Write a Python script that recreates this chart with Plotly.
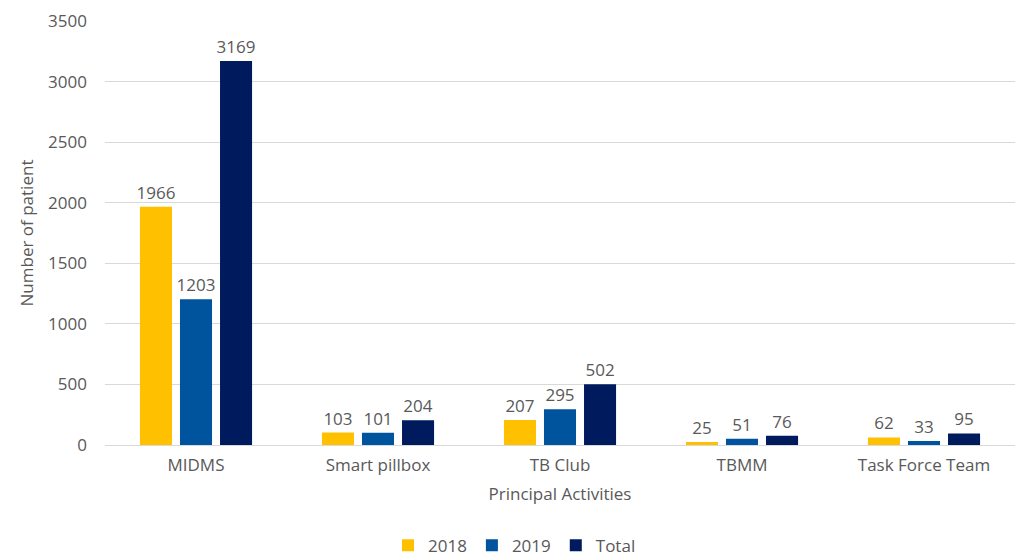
import plotly.graph_objects as go

categories = ["MIDMS", "Smart pillbox", "TB Club", "TBMM", "Task Force Team"]
series_names = ["2018", "2019", "Total"]
values_2018 = [1966, 103, 207, 25, 62]
values_2019 = [1203, 101, 295, 51, 33]
values_total = [3169, 204, 502, 76, 95]
colors = ["#FFC000", "#00549E", "#001A5E"]
y_ticks = [0, 500, 1000, 1500, 2000, 2500, 3000, 3500]

FONT = "Open Sans, Noto Sans, sans-serif"
GRAY = "#595959"

fig = go.Figure()
for name, vals, col in zip(series_names, [values_2018, values_2019, values_total], colors):
    fig.add_trace(go.Bar(
        name=name, x=categories, y=vals, marker_color=col, marker_line_width=0,
        text=[str(v) for v in vals], textposition="outside", cliponaxis=False,
        constraintext="none",
        textfont=dict(family=FONT, size=17, color=GRAY),
    ))

fig.update_layout(
    width=1019, height=556,
    margin=dict(l=105, r=4, t=21, b=111, autoexpand=False),
    paper_bgcolor="white", plot_bgcolor="white",
    barmode="group", bargap=0.34, bargroupgap=0.2,
    font=dict(family=FONT, size=17, color=GRAY),
    showlegend=True,
    legend=dict(orientation="h", x=0.45, xanchor="center", y=-0.195, yanchor="top",
                font=dict(family=FONT, size=17, color=GRAY), itemwidth=30,
                traceorder="normal"),
    xaxis=dict(
        title=dict(text="Principal Activities", font=dict(family=FONT, size=17, color=GRAY), standoff=12),
        showline=True, linecolor="#D9D9D9", linewidth=1, ticks="",
        ticklabelstandoff=5,
        tickfont=dict(family=FONT, size=17, color=GRAY),
    ),
    yaxis=dict(
        title=dict(text="Number of patient", font=dict(family=FONT, size=17, color=GRAY), standoff=10),
        range=[0, 3500], tickvals=y_ticks, showgrid=True, gridcolor="#D9D9D9",
        zeroline=False, showline=False, ticks="",
        ticklabelstandoff=17,
        tickfont=dict(family=FONT, size=17, color=GRAY),
    ),
)

fig.write_html("out.html", config={"displayModeBar": False})

# remove the default browser body margin so the figure fills the window exactly
with open("out.html", "r", encoding="utf-8") as f:
    html = f.read()
html = html.replace("<body>", '<body style="margin:0;padding:0;">', 1)
with open("out.html", "w", encoding="utf-8") as f:
    f.write(html)
